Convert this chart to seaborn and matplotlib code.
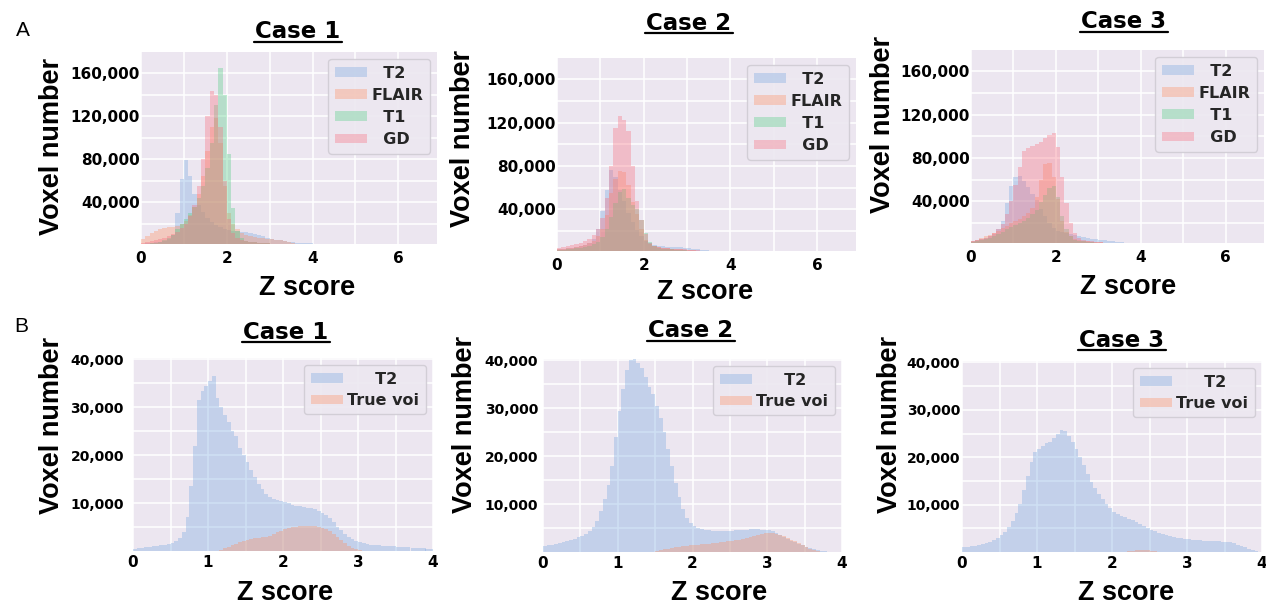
import numpy as np
import pandas as pd
import matplotlib
matplotlib.use("Agg")
import matplotlib.pyplot as plt
from matplotlib.lines import Line2D
import seaborn as sns

# ---------------- data (counts per bin) ----------------
# Row A: bins of width 0.1 starting at 0 (50 bins, 0..5)
a1_t2 = [1500, 2000, 2500, 3000, 3500, 4500, 6000, 10000, 30000, 62000,
         79000, 65000, 48000, 38000, 31000, 26000, 22000, 19000, 17000, 15500,
         14500, 14000, 13500, 13000, 12500, 12000, 11000, 10000, 9000, 7500,
         6500, 5500, 4800, 4200, 3700, 3200, 2800, 2500, 2200, 2000,
         1800, 1600, 1400, 1200, 1000, 800, 600, 400, 200, 100]
a1_flair = [6000, 9000, 12000, 14000, 15500, 16500, 17000, 17500, 18500, 20000,
            23000, 28000, 36000, 48000, 65000, 88000, 110000, 118000, 95000, 55000,
            30000, 20000, 15000, 12000, 10000, 9000, 8000, 7500, 7000, 6500,
            6000, 5500, 5000, 4000, 3000, 2000, 1200, 800, 500, 300,
            0, 0, 0, 0, 0, 0, 0, 0, 0, 0]
a1_t1 = [1000, 1500, 2000, 2500, 3500, 5000, 7000, 10000, 15000, 20000,
         25000, 30000, 36000, 44000, 55000, 72000, 95000, 130000, 165000, 140000,
         85000, 35000, 14000, 7000, 4500, 3500, 3000, 2500, 2200, 2000,
         1800, 1500, 1200, 1000, 800, 600, 400, 300, 200, 100,
         0, 0, 0, 0, 0, 0, 0, 0, 0, 0]
a1_gd = [2000, 3000, 4000, 5000, 6000, 7000, 8500, 10500, 13000, 16000,
         20000, 27000, 38000, 55000, 80000, 120000, 143000, 140000, 110000, 60000,
         25000, 12000, 7000, 5000, 4000, 3500, 3000, 2700, 2400, 2100,
         1800, 1500, 1200, 1000, 800, 600, 400, 300, 200, 100,
         0, 0, 0, 0, 0, 0, 0, 0, 0, 0]

a2_t2 = [3000, 3500, 4000, 4500, 5000, 6000, 7000, 9000, 13000, 22000,
         38000, 58000, 76000, 70000, 58000, 48000, 37000, 28000, 21000, 15000,
         11000, 8500, 7000, 6200, 5800, 5500, 5200, 5000, 4800, 4500,
         4200, 3800, 3300, 2800, 2300, 1900, 1500, 1200, 900, 700,
         500, 400, 300, 200, 100, 0, 0, 0, 0, 0]
a2_flair = [3000, 3500, 4000, 4500, 5000, 6000, 7000, 8500, 11000, 15000,
            22000, 35000, 55000, 68000, 75000, 74000, 62000, 47000, 36000, 22000,
            12000, 8000, 6000, 5000, 4500, 4000, 3700, 3400, 3100, 2800,
            2500, 2200, 1900, 1600, 1300, 1000, 700, 500, 300, 100,
            0, 0, 0, 0, 0, 0, 0, 0, 0, 0]
a2_t1 = [2000, 2500, 3000, 3500, 4000, 4500, 5000, 6000, 7500, 10000,
         14000, 22000, 33000, 46000, 56000, 59000, 50000, 44000, 40000, 30000,
         18000, 10000, 6000, 4500, 3800, 3300, 3000, 2700, 2400, 2100,
         1800, 1500, 1200, 1000, 800, 600, 400, 300, 200, 100,
         0, 0, 0, 0, 0, 0, 0, 0, 0, 0]
a2_gd = [4000, 5000, 6000, 7000, 8000, 9000, 10500, 12500, 16000, 22000,
         32000, 50000, 80000, 115000, 126000, 122000, 112000, 80000, 48000, 30000,
         17000, 9000, 6000, 5000, 4500, 4000, 3800, 3500, 3200, 3000,
         2700, 2400, 2100, 1800, 1500, 1200, 900, 600, 400, 200,
         0, 0, 0, 0, 0, 0, 0, 0, 0, 0]

a3_t2 = [3000, 4000, 5000, 6500, 8000, 10000, 14000, 22000, 38000, 54000,
         62000, 63000, 59000, 53000, 47000, 41000, 33000, 26000, 20000, 15000,
         12500, 11500, 10500, 9800, 9000, 8000, 7000, 6200, 5500, 5000,
         4500, 4000, 3500, 3000, 2600, 2200, 1800, 1500, 1200, 900,
         600, 400, 200, 100, 0, 0, 0, 0, 0, 0]
a3_flair = [3000, 4500, 6000, 7500, 9000, 11000, 13000, 15000, 17500, 20000,
            22000, 24000, 26000, 29000, 34000, 44000, 60000, 74000, 75000, 62000,
            42000, 22000, 12000, 7500, 5500, 4500, 3800, 3200, 2700, 2300,
            2000, 1700, 1400, 1100, 800, 600, 400, 300, 200, 100,
            0, 0, 0, 0, 0, 0, 0, 0, 0, 0]
a3_t1 = [2000, 3000, 4000, 5000, 6500, 8000, 10000, 12000, 14000, 16000,
         18000, 20000, 22000, 25000, 28000, 32000, 39000, 46000, 52000, 54000,
         44000, 26000, 14000, 7500, 4500, 3500, 3000, 2500, 2200, 1900,
         1600, 1300, 1000, 800, 600, 400, 300, 200, 100, 50,
         0, 0, 0, 0, 0, 0, 0, 0, 0, 0]
a3_gd = [3000, 4000, 5000, 6500, 8000, 11000, 14000, 19000, 28000, 40000,
         55000, 72000, 86000, 89000, 91000, 93000, 95000, 98000, 101000, 103000,
         90000, 62000, 38000, 20000, 11000, 6500, 4500, 3500, 3000, 2500,
         2200, 1900, 1600, 1300, 1000, 800, 600, 400, 200, 100,
         0, 0, 0, 0, 0, 0, 0, 0, 0, 0]

# Row B: bins of width 0.05 starting at 0 (80 bins, 0..4)
b1_t2 = [500, 550, 600, 750, 850, 950, 1050, 1150, 1250, 1500,
         1750, 2100, 2800, 4000, 7000, 13500, 22000, 31500, 33500, 34500,
         35500, 36500, 32000, 30000, 28500, 27000, 25000, 24000, 21500, 20000,
         18500, 17000, 15500, 14000, 13000, 12000, 11300, 10900, 10600, 10400,
         10200, 10000, 9700, 9500, 9300, 9200, 9000, 8900, 8700, 8300,
         8000, 7500, 6800, 6000, 5100, 4300, 3600, 3000, 2500, 2100,
         1800, 1600, 1450, 1350, 1250, 1150, 1100, 1050, 1000, 950,
         900, 850, 800, 750, 700, 650, 600, 550, 500, 450]
b1_voi = [0] * 22 + [100, 300, 600, 900, 1200, 1500, 1800, 2100, 2300, 2500,
                     2700, 2800, 2900, 3000, 3200, 3500, 3900, 4200, 4500, 4800,
                     5000, 5100, 5200, 5200, 5300, 5200, 5200, 5100, 4900, 4600,
                     4100, 3500, 2900, 2200, 1600, 1100, 700, 400, 200, 80] + [0] * 18

b2_t2 = [1300, 1400, 1500, 1700, 1900, 2100, 2300, 2500, 2800, 3100,
         3400, 3800, 4400, 5200, 6500, 8500, 11000, 14000, 18000, 24000,
         29500, 34000, 38000, 40000, 40500, 39500, 38500, 36500, 34500, 33000,
         30500, 28000, 25000, 21500, 18000, 14500, 11500, 9000, 7200, 6000,
         5400, 5000, 4800, 4600, 4500, 4400, 4300, 4300, 4300, 4400,
         4400, 4500, 4500, 4600, 4600, 4700, 4700, 4700, 4600, 4600,
         4500, 4300, 4000, 3600, 3100, 2700, 2300, 2000, 1700, 1400,
         1100, 900, 650, 450, 300, 150, 50, 0, 0, 0]
b2_voi = [0] * 29 + [100, 250, 400, 550, 700, 850, 1000, 1100, 1200, 1300,
                     1400, 1500, 1550, 1600, 1650, 1700, 1800, 1900, 2000, 2100,
                     2200, 2300, 2450, 2600, 2800, 3000, 3200, 3400, 3600, 3800,
                     3900, 3950, 3900, 3800, 3600, 3300, 3000, 2600, 2200, 1800,
                     1400, 1000, 700, 450, 250, 100, 30] + [0] * 4

b3_t2 = [1000, 1100, 1200, 1350, 1500, 1700, 1900, 2200, 2500, 2900,
         3500, 4300, 5200, 6500, 8200, 10200, 13000, 16000, 19000, 21000,
         21800, 22400, 22900, 23200, 24000, 24800, 25800, 25500, 24500, 23200,
         21800, 20000, 18300, 16500, 14800, 13500, 12300, 11200, 10200, 9200,
         8500, 8000, 7600, 7300, 7000, 6700, 6300, 5900, 5500, 5100,
         4700, 4400, 4100, 3800, 3600, 3400, 3200, 3000, 2900, 2800,
         2700, 2600, 2500, 2450, 2400, 2350, 2300, 2300, 2250, 2200,
         2200, 2100, 1800, 1500, 1200, 950, 700, 450, 250, 100]
b3_voi = [0] * 44 + [150, 300, 400, 450, 450, 400, 300, 150] + [0] * 28

top_labels = ["  T2", "FLAIR", "  T1", "  GD"]
bot_labels = ["     T2", "True voi"]
titles = ["Case 1", "Case 2", "Case 3"]
top_yticks = [40000, 80000, 120000, 160000]
top_yminor = [20000, 60000, 100000, 140000]
top_xticks = [0, 2, 4, 6]
top_xminor = [1, 3, 5]
bot_yticks = [10000, 20000, 30000, 40000]
bot_yminor = [5000, 15000, 25000, 35000]
bot_xticks = [0, 1, 2, 3, 4]
bot_xminor = [0.5, 1.5, 2.5, 3.5]

top_series = [[a1_t2, a1_flair, a1_t1, a1_gd],
              [a2_t2, a2_flair, a2_t1, a2_gd],
              [a3_t2, a3_flair, a3_t1, a3_gd]]
bot_series = [[b1_t2, b1_voi], [b2_t2, b2_voi], [b3_t2, b3_voi]]

top_edges = [round(0.1 * k, 3) for k in range(51)]
bot_edges = [round(0.05 * k, 3) for k in range(81)]

# ---------------- style ----------------
sns.set_theme(style="darkgrid")
plt.rcParams["font.family"] = ["DejaVu Sans"]
BG = "#ECE6F0"
plt.rcParams["axes.facecolor"] = BG
C_T2, C_FLAIR, C_T1, C_GD = "#77A7DF", "#FF9061", "#52CF83", "#F86E7E"
top_colors = [C_T2, C_FLAIR, C_T1, C_GD]
bot_colors = [C_T2, C_FLAIR]
ALPHA = 0.35

W, H = 1266, 607
fig = plt.figure(figsize=(W / 100, H / 100), dpi=100)
fig.patch.set_facecolor("white")

def add_ax(l, t, r, b):
    return fig.add_axes([l / W, 1 - b / H, (r - l) / W, (b - t) / H])

top_boxes = [(141, 52, 437, 244), (557, 58, 856, 251), (971, 50, 1264, 243)]
bot_boxes = [(133, 358, 433, 551), (543, 359, 842, 552), (962, 361, 1262, 552)]

top_title_pos = [(298, 32, 42), (689, 23, 32.5), (1124, 21.5, 32)]
bot_title_pos = [(286, 332.5, 342), (691, 330.5, 340.5), (1122, 340.5, 350)]
top_ylab = [(52, 146), (463, 138), (883, 124)]
bot_ylab = [(52, 425), (465, 424), (890, 424)]
top_xlab = [(307, 288), (705, 292), (1128, 287)]
bot_xlab = [(285, 593), (719, 593), (1126, 593)]
bot_ypad = [6.5, 3.6, 1.4]

LABEL_FONT = dict(family=["Liberation Sans", "DejaVu Sans"], fontweight="bold", fontsize=19.5)
title_texts = []


def draw_hist(ax, vals, edges, lab, col):
    centers = [(a + b) / 2 for a, b in zip(edges[:-1], edges[1:])]
    df = pd.DataFrame({"z": centers, "n": [float(v) for v in vals]})
    sns.histplot(data=df, x="z", weights="n", bins=edges, element="bars",
                 fill=True, alpha=ALPHA, linewidth=0, color=col, label=lab,
                 antialiased=False, ax=ax)


def style_axis(ax, xlim, ylim, xt, xm, yt, ym, ytick_fs, xtick_fs, ypad, xpad):
    ax.set_xlim(*xlim)
    ax.set_ylim(*ylim)
    ax.set_xticks(xt)
    ax.set_xticks(xm, minor=True)
    ax.set_yticks(yt)
    ax.set_yticks(ym, minor=True)
    ax.set_xticklabels([str(v) for v in xt])
    ax.set_yticklabels([f"{v:,}" for v in yt])
    ax.grid(which="both", color="white", linewidth=1.1)
    ax.set_axisbelow(True)
    ax.tick_params(which="both", length=0)
    ax.tick_params(axis="y", labelsize=ytick_fs, pad=ypad)
    ax.tick_params(axis="x", labelsize=xtick_fs, pad=xpad)
    for lab in ax.get_xticklabels() + ax.get_yticklabels():
        lab.set_fontweight("bold")
        lab.set_color("black")
    for s in ax.spines.values():
        s.set_visible(False)


def place_labels(ax, box, ylab_px, xlab_px):
    l, t, r, b = box
    ax.set_ylabel("Voxel number", va="center", ha="center", color="black", **LABEL_FONT)
    ax.yaxis.set_label_coords((ylab_px[0] - l) / (r - l), (b - ylab_px[1]) / (b - t))
    ax.set_xlabel("Z score", va="center", ha="center", color="black", **LABEL_FONT)
    ax.xaxis.set_label_coords((xlab_px[0] - l) / (r - l), (b - xlab_px[1]) / (b - t))


def add_title(txt, pos):
    x, y, uy = pos
    t = fig.text(x / W, 1 - y / H, txt, ha="center", va="center",
                 fontsize=16.5, fontweight="bold", color="black")
    title_texts.append((t, uy))


LEG = dict(loc="upper right", prop=dict(weight="bold", size=11.5),
           handlelength=2.0, handleheight=0.55, handletextpad=0.3,
           borderaxespad=0.45, borderpad=0.4, frameon=True,
           facecolor="#ECE8F0", edgecolor="#D0CCD4", framealpha=0.9)

# ---------------- row A ----------------
for i in range(3):
    ax = add_ax(*top_boxes[i])
    for vals, lab, col in zip(top_series[i], top_labels, top_colors):
        draw_hist(ax, vals, top_edges, lab, col)
    style_axis(ax, (0, 6.9), (1500, 179500), top_xticks, top_xminor,
               top_yticks, top_yminor, 11, 11, 0.7, 5)
    place_labels(ax, top_boxes[i], top_ylab[i], top_xlab[i])
    ax.legend(labelspacing=0.45, **LEG)
    add_title(titles[i], top_title_pos[i])

# ---------------- row B ----------------
for i in range(3):
    ax = add_ax(*bot_boxes[i])
    for vals, lab, col in zip(bot_series[i], bot_labels, bot_colors):
        draw_hist(ax, vals, bot_edges, lab, col)
    style_axis(ax, (0, 4), (0, 40300), bot_xticks, bot_xminor,
               bot_yticks, bot_yminor, 10, 11, bot_ypad[i], 3)
    place_labels(ax, bot_boxes[i], bot_ylab[i], bot_xlab[i])
    ax.legend(labelspacing=0.4, **LEG)
    add_title(titles[i], bot_title_pos[i])

# panel letters
fig.text(23 / W, 1 - 31 / H, "A", ha="center", va="center", fontsize=15,
         family=["Liberation Sans", "DejaVu Sans"], color="black")
fig.text(21 / W, 1 - 326 / H, "B", ha="center", va="center", fontsize=15,
         family=["Liberation Sans", "DejaVu Sans"], color="black")

# underline titles
fig.canvas.draw()
renderer = fig.canvas.get_renderer()
for t, uy in title_texts:
    bb = t.get_window_extent(renderer)
    yy = 1 - uy / H
    fig.add_artist(Line2D([bb.x0 / W - 0.001, bb.x1 / W + 0.001], [yy, yy],
                          transform=fig.transFigure, color="black", linewidth=1.6))

fig.savefig("out.png", dpi=100, facecolor="white")
